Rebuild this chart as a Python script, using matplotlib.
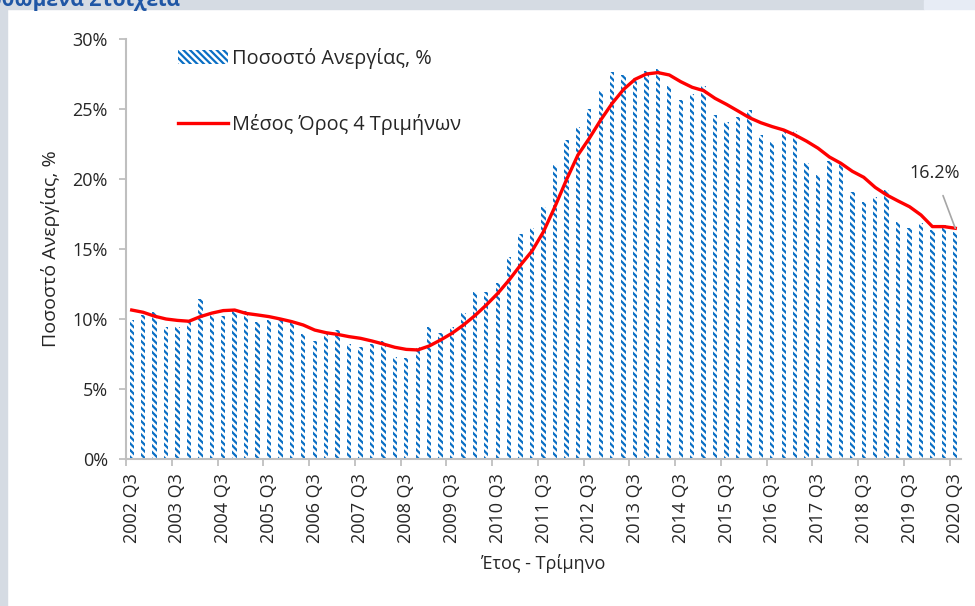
import matplotlib.pyplot as plt
from matplotlib.patches import Rectangle
from matplotlib.ticker import FuncFormatter, FixedLocator
import numpy as np

plt.rcParams['font.family'] = ['Open Sans', 'DejaVu Sans']
plt.rcParams['hatch.linewidth'] = 1.6

# unemployment rate per quarter, 2002 Q3 .. 2020 Q3 (%)
unemployment = [9.9, 10.3, 10.5, 9.4, 9.4, 9.95, 11.45, 10.3, 10.2, 10.55,
                10.55, 9.8, 9.9, 9.95, 9.8, 8.9, 8.4, 8.9, 9.2, 8.25,
                8.0, 8.25, 8.4, 7.3, 7.25, 8.0, 9.45, 9.0, 9.4, 10.45,
                11.9, 11.95, 12.55, 14.4, 16.05, 16.5, 18.0, 21.0, 22.8, 23.7,
                25.0, 26.3, 27.65, 27.4, 27.25, 27.75, 27.85, 26.65, 25.65, 26.1,
                26.65, 24.55, 24.1, 24.45, 24.9, 23.15, 22.65, 23.4, 23.4, 21.15,
                20.3, 21.3, 21.1, 19.1, 18.35, 18.75, 19.25, 16.95, 16.5, 16.85,
                16.35, 16.7, 16.2]

# 4-quarter average as drawn in the chart
avg_4q = [10.64, 10.48, 10.2, 10.0, 9.9, 9.84, 10.17, 10.42, 10.6, 10.64,
          10.4, 10.29, 10.17, 10.0, 9.81, 9.57, 9.21, 9.02, 8.9, 8.74,
          8.62, 8.43, 8.21, 7.98, 7.83, 7.79, 8.07, 8.5, 8.98, 9.57,
          10.24, 11.0, 11.83, 12.79, 13.86, 14.86, 16.24, 18.02, 19.93, 21.7,
          22.9, 24.21, 25.4, 26.4, 27.12, 27.5, 27.6, 27.43, 26.95, 26.55,
          26.31, 25.76, 25.33, 24.86, 24.38, 24.02, 23.74, 23.5, 23.14, 22.7,
          22.2, 21.57, 21.12, 20.55, 20.12, 19.4, 18.86, 18.43, 18.02, 17.43,
          16.6, 16.6, 16.48]

tick_labels = ['2002 Q3', '2003 Q3', '2004 Q3', '2005 Q3', '2006 Q3', '2007 Q3',
               '2008 Q3', '2009 Q3', '2010 Q3', '2011 Q3', '2012 Q3', '2013 Q3',
               '2014 Q3', '2015 Q3', '2016 Q3', '2017 Q3', '2018 Q3', '2019 Q3',
               '2020 Q3']

last_label = '16.2%'

fig = plt.figure(figsize=(9.75, 6.06), dpi=100)
# page decoration around the chart
fig.patches.append(Rectangle((0, 0), 7 / 975, 1, transform=fig.transFigure,
                             color='#d5dbe3', zorder=-10))
fig.patches.append(Rectangle((0, 1 - 9 / 606), 924 / 975, 9 / 606, transform=fig.transFigure,
                             color='#d5dbe3', zorder=-10))
fig.patches.append(Rectangle((924 / 975, 1 - 9 / 606), 51 / 975, 9 / 606, transform=fig.transFigure,
                             color='#e7ecf5', zorder=-10))
fig.text(180 / 975, 1 - 6 / 606, 'Εποχικά Διορθωμένα Στοιχεία', ha='right', va='baseline',
         fontsize=15, fontweight='bold', color='#1f56a5')

ax = fig.add_axes([126 / 975, 1 - 459 / 606, 835 / 975, 420 / 606])
x = np.arange(len(unemployment))
bars = ax.bar(x, unemployment, width=0.38, facecolor='white', edgecolor='#0a6fc4',
              linewidth=0, hatch='\\\\\\\\\\', label='Ποσοστό Ανεργίας, %')
line, = ax.plot(x, avg_4q, color='#ff0000', linewidth=2.4, label='Μέσος Όρος 4 Τριμήνων',
                solid_joinstyle='round')

ax.set_xlim(-0.5, len(unemployment) - 0.5)
ax.set_ylim(0, 30)
ax.set_yticks(np.arange(0, 31, 5))
ax.yaxis.set_major_formatter(FuncFormatter(lambda v, p: '{:d}%'.format(int(v))))

ax.set_xticks(x[::4])
ax.set_xticklabels(tick_labels, rotation=90)
ax.xaxis.set_minor_locator(FixedLocator(x[::4] - 0.5))
ax.tick_params(axis='x', which='major', length=0, pad=10)
ax.tick_params(axis='x', which='minor', length=5, width=1.3, color='#bfbfbf')
ax.tick_params(axis='y', length=5, width=1.3, color='#bfbfbf', pad=8)
ax.tick_params(labelsize=13, labelcolor='#262626')

for s in ['top', 'right']:
    ax.spines[s].set_visible(False)
for s in ['left', 'bottom']:
    ax.spines[s].set_color('#bfbfbf')
    ax.spines[s].set_linewidth(1.5)

ax.set_ylabel('Ποσοστό Ανεργίας, %', fontsize=14, color='#262626', labelpad=9)
ax.set_xlabel('Έτος - Τρίμηνο', fontsize=13, color='#262626', labelpad=8)

ax.annotate(last_label, xy=(x[-1], avg_4q[-1]), xytext=(70.2, 20.4),
            ha='center', va='center', fontsize=13, color='#262626',
            arrowprops=dict(arrowstyle='-', color='#a6a6a6', linewidth=1.2,
                            shrinkA=8, shrinkB=0))

leg = ax.legend(handles=[bars, line], loc='upper left',
                bbox_to_anchor=(160 / 975, 1 - 30 / 606),
                bbox_transform=fig.transFigure, frameon=False, fontsize=14.3,
                handlelength=2.5, handletextpad=0.25, labelspacing=2.25)
for t in leg.get_texts():
    t.set_color('#262626')

fig.savefig('out.png', dpi=100)
